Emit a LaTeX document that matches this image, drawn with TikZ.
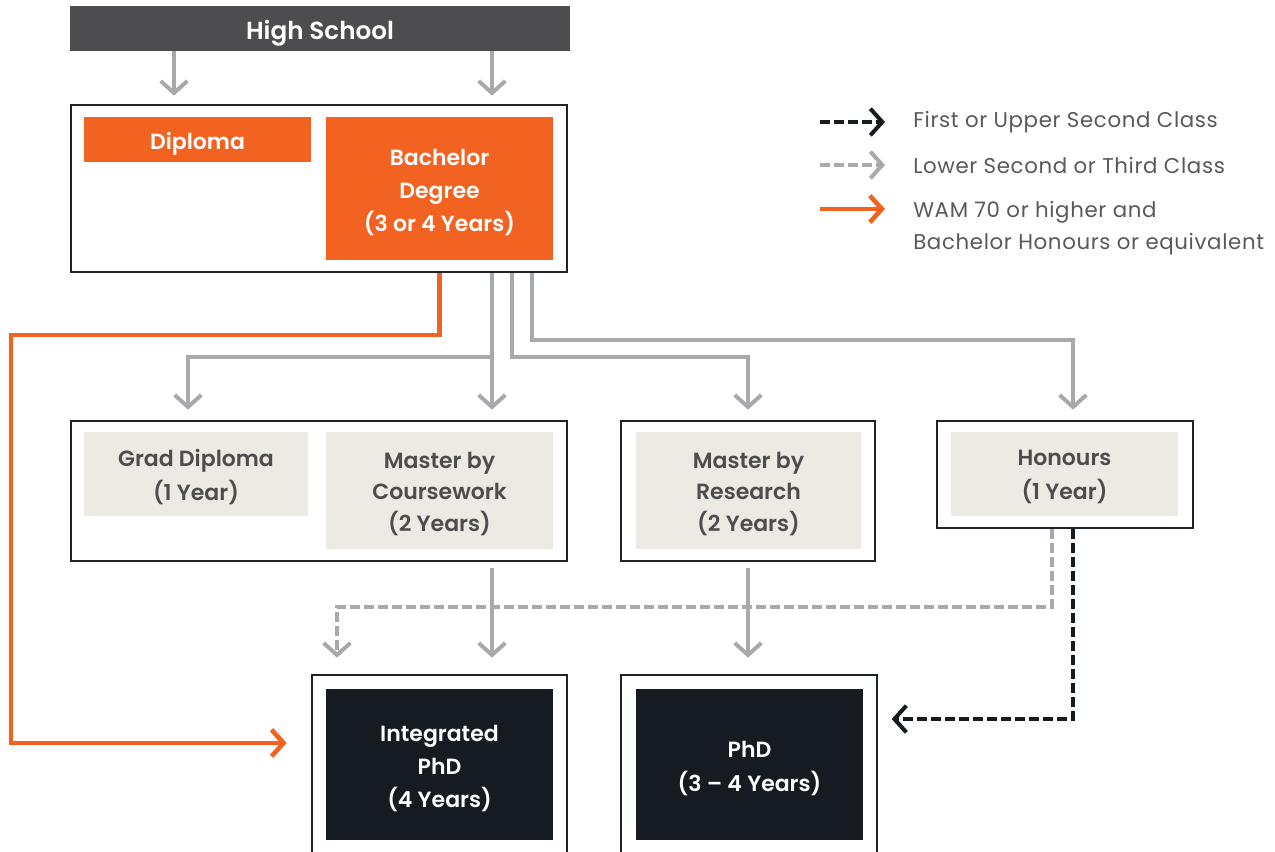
\documentclass[tikz,border=0pt]{standalone}
\usepackage{fontspec}
\setmainfont{Poppins}
\newfontfamily\semib{Poppins SemiBold}[Ligatures=TeX]
\newfontfamily\legfont{Poppins}[LetterSpace=3]
\usetikzlibrary{arrows.meta}
\definecolor{hsgray}{HTML}{4D4D4F}
\definecolor{uorange}{HTML}{F26322}
\definecolor{lgray}{HTML}{A7A9AC}
\definecolor{beige}{HTML}{EDEAE3}
\definecolor{navy}{HTML}{161B21}
\definecolor{bord}{HTML}{1D2329}
\definecolor{txtgray}{HTML}{4D4D4F}
\definecolor{legtxt}{HTML}{58595B}
\tikzset{
  outer/.style={draw=bord, line width=2pt, fill=white, inner sep=0pt},
  obox/.style={fill=uorange, inner sep=0pt},
  bbox/.style={fill=beige, inner sep=0pt},
  dbox/.style={fill=navy, inner sep=0pt},
  wlab/.style={text=white, inner sep=0pt, align=center, yshift=-3pt, font=\semib\fontsize{16.5}{25}\selectfont},
  glab/.style={text=txtgray, inner sep=0pt, align=center, yshift=-2.5pt, font=\semib\fontsize{16.5}{23.5}\selectfont},
  glabw/.style={glab, font=\semib\fontsize{16.5}{25.5}\selectfont},
  tipb/.tip={Straight Barb[length=9pt,width=20pt]},
  garrow/.style={draw=lgray, line width=3pt, -tipb},
  oarrow/.style={draw=uorange, line width=3.5pt, -tipb},
  gdash/.style={draw=lgray, line width=3pt, dash pattern=on 7.5pt off 3pt, -tipb},
  kdash/.style={draw=navy, line width=3pt, dash pattern=on 7.5pt off 3pt, -tipb},
  legtext/.style={anchor=base west, text=legtxt, inner sep=0pt, font=\legfont\fontsize{16}{23}\selectfont},
}
\begin{document}
\begin{tikzpicture}[x=0.75pt, y=-0.75pt]
\useasboundingbox (0,0) rectangle (1275,852);
\clip (0,0) rectangle (1275,852);
% top
\node[fill=hsgray, minimum width=375pt, minimum height=33.75pt, inner sep=0pt,
  label={[wlab, yshift=-0.5pt, font=\semib\fontsize{18.5}{23}\selectfont]center:High School}] (hs) at (320,28.5) {};
\node[outer, minimum width=372pt, minimum height=125.25pt] (top) at (319,188.5) {};
\node[obox, minimum width=170.25pt, minimum height=33.75pt, label={[wlab]center:Diploma}] (dip) at (197.5,139.5) {};
\node[obox, minimum width=170.25pt, minimum height=107.25pt, label={[wlab]center:{Bachelor\\Degree\\(3 or 4 Years)}}] (bach) at (439.5,188.5) {};
% middle
\node[outer, minimum width=372pt, minimum height=105pt] (midA) at (319,491) {};
\node[bbox, minimum width=168pt, minimum height=63pt, label={[glabw]center:{Grad Diploma\\(1 Year)}}] (gd) at (196,474) {};
\node[bbox, minimum width=170.25pt, minimum height=87.75pt, label={[glab]center:{Master by\\Coursework\\(2 Years)}}] (mc) at (439.5,490.5) {};
\node[outer, minimum width=190.5pt, minimum height=105pt] (midB) at (748,491) {};
\node[bbox, minimum width=168.75pt, minimum height=87.75pt, label={[glab]center:{Master by\\Research\\(2 Years)}}] (mr) at (748.5,490.5) {};
\node[outer, minimum width=192pt, minimum height=80.25pt] (midC) at (1065,474.5) {};
\node[bbox, minimum width=170.25pt, minimum height=63pt, label={[glabw]center:{Honours\\(1 Year)}}] (hon) at (1064.5,474) {};
% bottom
\node[outer, minimum width=191.25pt, minimum height=146.25pt] (botD) at (439.5,772.5) {};
\node[dbox, minimum width=170.25pt, minimum height=113.25pt, label={[wlab]center:{Integrated\\PhD\\(4 Years)}}] (ip) at (439.5,764.5) {};
\node[outer, minimum width=192pt, minimum height=146.25pt] (botE) at (749,772.5) {};
\node[dbox, minimum width=170.25pt, minimum height=113.25pt, label={[wlab]center:{PhD\\(3 – 4 Years)}}] (phd) at (749.5,764.5) {};
% helper coordinates
\coordinate (x174) at (174,0);
\coordinate (x492) at (492,0);
\coordinate (x188) at (188,0);
\coordinate (x512) at (512,0);
\coordinate (x532) at (532,0);
\coordinate (x1073) at (1073,0);
\coordinate (x1052) at (1052,0);
\coordinate (x337) at (337,0);
\coordinate (x11) at (11,0);
\coordinate (r335) at (0,335);
\coordinate (r340) at (0,340);
\coordinate (r357) at (0,357);
\coordinate (r607) at (0,607);
\coordinate (r719) at (0,719);
\coordinate (r743) at (0,743);
% high school arrows
\draw[garrow, shorten >=6pt] (hs.south -| x174) -- (top.north -| x174);
\draw[garrow, shorten >=6pt] (hs.south -| x492) -- (top.north -| x492);
% from bachelor
\draw[oarrow, shorten >=18pt] (top.south -| bach.south) |- (r335 -| x11) |- (botD.west |- r743);
\draw[garrow, shorten >=7.5pt] (top.south -| x492) -- (midA.north -| x492);
\draw[garrow, shorten >=7.5pt] (x492 |- r357) -| (midA.north -| x188);
\draw[garrow, shorten >=7.5pt] (top.south -| x512) |- (r357 -| midB.north) -- (midB.north);
\draw[garrow, shorten >=7.5pt] (top.south -| x532) |- (r340 -| x1073) -- (midC.north -| x1073);
% to PhDs
\draw[garrow, shorten <=4pt, shorten >=12pt] (midA.south -| x492) -- (botD.north -| x492);
\draw[garrow, shorten <=4pt, shorten >=12pt] (midB.south) -- (botE.north -| midB.south);
\draw[gdash, shorten >=12pt] (midC.south -| x1052) |- (r607 -| x337) -- (botD.north -| x337);
\draw[kdash, shorten >=10pt] (midC.south -| x1073) |- (botE.east |- r719);
% legend
\coordinate (l1a) at (820,122); \coordinate (l1b) at (885,122);
\coordinate (l2a) at (820,165); \coordinate (l2b) at (885,165);
\coordinate (l3a) at (820,209); \coordinate (l3b) at (885,209);
\draw[kdash] (l1a) -- (l1b);
\draw[gdash] (l2a) -- (l2b);
\draw[oarrow] (l3a) -- (l3b);
\node[legtext] (t1) at (913,128) {First or Upper Second Class};
\node[legtext] (t2) at (913,174) {Lower Second or Third Class};
\node[legtext] (t3) at (913,218) {WAM 70 or higher and};
\node[legtext] (t4) at (913,250) {Bachelor Honours or equivalent};
\end{tikzpicture}
\end{document}
